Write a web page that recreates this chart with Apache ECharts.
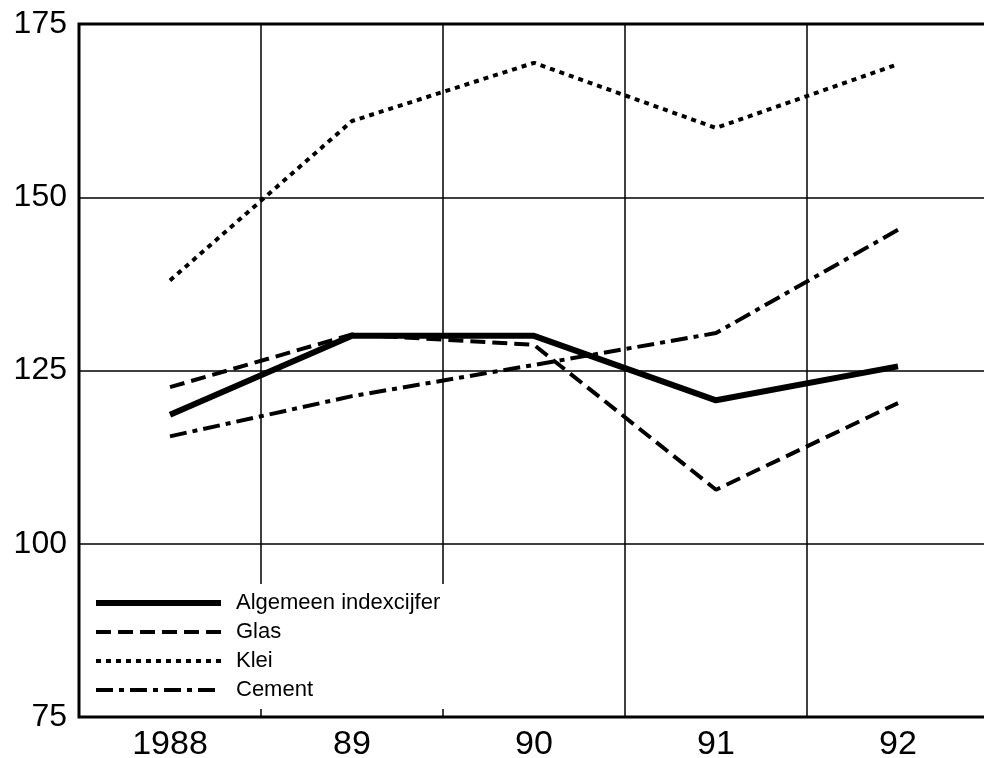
<!DOCTYPE html>
<html>
<head>
<meta charset="utf-8">
<script src="https://cdn.jsdelivr.net/npm/echarts@6/dist/echarts.min.js"></script>
<style>
  html, body { margin: 0; padding: 0; background: #fff; }
  #chart { width: 984px; height: 758px; }
</style>
</head>
<body>
<div id="chart"></div>
<script>
const years = ['1988', '89', '90', '91', '92']
const algemeen = [118.6, 130, 130, 120.7, 125.6]
const glas = [122.6, 130.2, 128.7, 107.8, 120.3]
const klei = [138, 161, 169.4, 160, 169.2]
const cement = [115.5, 121.3, 125.8, 130.4, 145.3]

const FONT = '"Liberation Sans", Arial, sans-serif'

// Line styles that mimic the print: solid, dashed, dotted, dash-dot
const lineSeries = [
  { name: 'Algemeen indexcijfer', data: algemeen, width: 6, type: 'solid' },
  { name: 'Glas', data: glas, width: 4, type: [15, 7] },
  { name: 'Klei', data: klei, width: 4, type: [5, 5] },
  { name: 'Cement', data: cement, width: 4, type: [17, 6, 5, 6] },
]

const chart = echarts.init(document.getElementById('chart'))
chart.setOption({
  animation: false,
  backgroundColor: '#fff',
  grid: {
    left: 79, width: 910, top: 24, bottom: 41,
    outerBoundsMode: 'none',
    show: true, borderColor: '#000', borderWidth: 3,
  },
  legend: {
    orient: 'vertical',
    left: 82, top: 584,
    padding: [8, 12, 8, 11],
    backgroundColor: '#fff',
    itemWidth: 125, itemHeight: 14, itemGap: 7,
    itemStyle: { color: 'transparent', borderWidth: 0 },
    textStyle: { fontFamily: FONT, fontSize: 22, color: '#000', padding: [0, 0, 0, 10] },
    data: lineSeries.map(s => ({
      name: s.name,
      lineStyle: { width: s.width, type: s.type, color: '#000' },
    })),
  },
  xAxis: {
    type: 'category',
    data: years,
    boundaryGap: true,
    axisLine: { show: false },
    axisTick: { show: false },
    axisLabel: { fontFamily: FONT, fontSize: 34, color: '#000', margin: 11 },
    splitLine: { show: true, lineStyle: { color: '#000', width: 1.5 } },
  },
  yAxis: {
    type: 'value',
    min: 75, max: 175, interval: 25,
    axisLine: { show: false },
    axisTick: { show: false },
    axisLabel: { fontFamily: FONT, fontSize: 32, color: '#000', margin: 12 },
    splitLine: { show: true, lineStyle: { color: '#000', width: 1.5 } },
  },
  series: lineSeries.map(s => ({
    name: s.name,
    type: 'line',
    data: s.data,
    symbol: 'none',
    z: 3,
    lineStyle: { color: '#000', width: s.width, type: s.type, cap: 'butt' },
    itemStyle: { color: '#000' },
  })),
})
</script>
</body>
</html>
